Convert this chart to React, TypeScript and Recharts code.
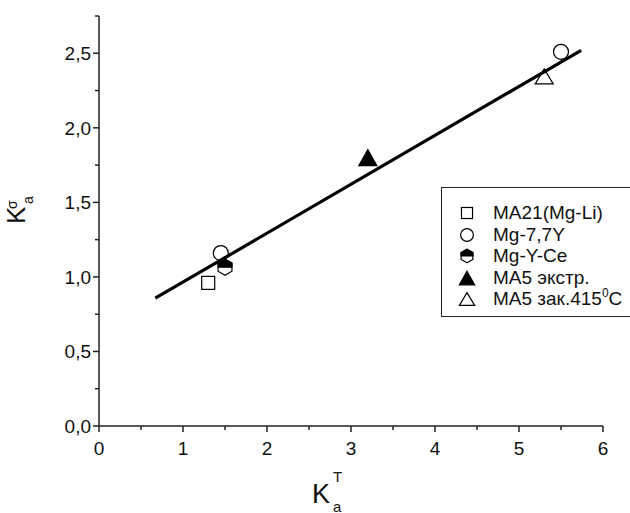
import React from 'react';
import { ScatterChart, Scatter, XAxis, YAxis, Legend, Label } from 'recharts';

// Axis ticks (majors carry labels, the rest are minor ticks)
const xTicks = [0, 0.5, 1, 1.5, 2, 2.5, 3, 3.5, 4, 4.5, 5, 5.5, 6];
const xMajor = [0, 1, 2, 3, 4, 5, 6];
const yTicks = [0, 0.25, 0.5, 0.75, 1, 1.25, 1.5, 1.75, 2, 2.25, 2.5, 2.75];
const yMajor = [0, 0.5, 1, 1.5, 2, 2.5];

// Measured points for each alloy
const ma21 = [{ x: 1.3, y: 0.96 }];
const mg77y = [
  { x: 1.45, y: 1.16 },
  { x: 5.5, y: 2.51 },
];
const mgYCe = [{ x: 1.5, y: 1.065 }];
const ma5Extruded = [{ x: 3.2, y: 1.8 }];
const ma5Quenched = [{ x: 5.3, y: 2.345 }];

// Linear fit drawn across the data
const fitLine = [
  { x: 0.67, y: 0.857 },
  { x: 5.74, y: 2.52 },
];

const legendNames = ['MA21(Mg-Li)', 'Mg-7,7Y', 'Mg-Y-Ce', 'MA5 экстр.', 'MA5 зак.415'];

const FONT = '"Liberation Sans", Arial, Helvetica, sans-serif';
const INK = '#000';

type Kind = 'square' | 'circle' | 'hexagon' | 'triFilled' | 'triOpen';

function Marker({ kind, cx, cy, k = 1 }: { kind: Kind; cx: number; cy: number; k?: number }) {
  const sw = 1.2;
  if (kind === 'square') {
    const h = 6.5 * k;
    return <rect x={cx - h} y={cy - h} width={2 * h} height={2 * h} fill="#fff" stroke={INK} strokeWidth={sw} />;
  }
  if (kind === 'circle') {
    return <circle cx={cx} cy={cy} r={7.5 * k} fill="#fff" stroke={INK} strokeWidth={sw} />;
  }
  if (kind === 'hexagon') {
    const r = 8 * k;
    const w = r * Math.cos(Math.PI / 6);
    const full = [
      [cx, cy - r],
      [cx + w, cy - r / 2],
      [cx + w, cy + r / 2],
      [cx, cy + r],
      [cx - w, cy + r / 2],
      [cx - w, cy - r / 2],
    ];
    const top = [
      [cx - w, cy],
      [cx - w, cy - r / 2],
      [cx, cy - r],
      [cx + w, cy - r / 2],
      [cx + w, cy],
    ];
    return (
      <g>
        <polygon points={full.map((p) => p.join(',')).join(' ')} fill="#fff" stroke={INK} strokeWidth={sw} />
        <polygon points={top.map((p) => p.join(',')).join(' ')} fill={INK} stroke={INK} strokeWidth={sw} />
      </g>
    );
  }
  const hw = 9 * k;
  const hh = (kind === 'triFilled' ? 8 : 7.5) * k;
  const pts = `${cx},${cy - hh} ${cx + hw},${cy + hh} ${cx - hw},${cy + hh}`;
  return (
    <polygon
      points={pts}
      fill={kind === 'triFilled' ? INK : '#fff'}
      stroke={INK}
      strokeWidth={sw}
      strokeLinejoin="miter"
    />
  );
}

const legendKinds: Kind[] = ['square', 'circle', 'hexagon', 'triFilled', 'triOpen'];

const shapeOf = (kind: Kind) => (props: any) => <Marker kind={kind} cx={props.cx} cy={props.cy} />;

const XTick = (props: any) => {
  const { x, y, payload } = props;
  const major = xMajor.includes(payload.value);
  return (
    <g>
      <line x1={x} y1={y} x2={x} y2={y + (major ? 6 : 4)} stroke="#222" strokeWidth={1.5} />
      {major && (
        <text x={x} y={y + 29} textAnchor="middle" fontFamily={FONT} fontSize={19} fill="#111">
          {payload.value}
        </text>
      )}
    </g>
  );
};

const YTick = (props: any) => {
  const { x, y, payload } = props;
  const major = yMajor.includes(payload.value);
  return (
    <g>
      <line x1={x} y1={y} x2={x - (major ? 6 : 4)} y2={y} stroke="#222" strokeWidth={1.5} />
      {major && (
        <text x={x - 8} y={y + 6.8} textAnchor="end" fontFamily={FONT} fontSize={19} fill="#111">
          {payload.value.toFixed(1).replace('.', ',')}
        </text>
      )}
    </g>
  );
};

const YTitle = (props: any) => {
  const vb = props.viewBox || { x: 0, y: 0, width: 0, height: 0 };
  const bx = vb.x + 25;
  const by = vb.y + vb.height / 2 + 3;
  return (
    <g transform={`translate(${bx},${by}) rotate(-90)`} fontFamily={FONT} fill="#111">
      <text x={0} y={0} fontSize={26}>K</text>
      <text x={15} y={-8} fontSize={14}>σ</text>
      <text x={20} y={8} fontSize={14}>a</text>
    </g>
  );
};

const XTitle = (props: any) => {
  const vb = props.viewBox || { x: 0, y: 0, width: 0, height: 0 };
  const bx = vb.x + 213;
  const by = vb.y + 77;
  return (
    <g fontFamily={FONT} fill="#111">
      <text x={bx} y={by} fontSize={27}>K</text>
      <text x={bx + 21} y={by - 21} fontSize={15}>T</text>
      <text x={bx + 21} y={by + 8.5} fontSize={15}>a</text>
    </g>
  );
};

const LegendBox = () => (
  <div
    style={{
      width: 192,
      height: 130,
      border: '1px solid #222',
      background: '#fff',
      boxSizing: 'border-box',
      position: 'relative',
      fontFamily: FONT,
      fontSize: 19,
      color: '#111',
    }}
  >
    {legendNames.map((name, i) => {
      const cy = 25 + i * 21.6;
      return (
        <div key={name} style={{ position: 'absolute', left: 0, top: cy - 11, height: 22, width: 190 }}>
          <svg width={22} height={22} style={{ position: 'absolute', left: 14, top: 0, overflow: 'visible' }}>
            <Marker kind={legendKinds[i]} cx={11} cy={11} k={0.85} />
          </svg>
          <span style={{ position: 'absolute', left: 51, top: 0, lineHeight: '22px', whiteSpace: 'nowrap' }}>
            {name}
            {i === 4 && (
              <>
                <span style={{ fontSize: 12, position: 'relative', top: -8 }}>0</span>C
              </>
            )}
          </span>
        </div>
      );
    })}
  </div>
);

export default function App() {
  return (
    <div style={{ position: 'absolute', left: 0, top: 0, width: 630, height: 513, overflow: 'hidden', background: '#fff' }}>
      <ScatterChart width={630} height={513} margin={{ top: 16, right: 27, bottom: 0, left: 0 }}>
        <XAxis
          type="number"
          dataKey="x"
          domain={[0, 6]}
          ticks={xTicks}
          interval={0}
          tickLine={false}
          tickSize={0}
          tickMargin={0}
          tick={<XTick />}
          axisLine={{ stroke: '#222', strokeWidth: 1.5 }}
          height={87}
        >
          <Label content={<XTitle />} />
        </XAxis>
        <YAxis
          type="number"
          dataKey="y"
          domain={[0, 2.75]}
          ticks={yTicks}
          interval={0}
          tickLine={false}
          tickSize={0}
          tickMargin={0}
          tick={<YTick />}
          axisLine={{ stroke: '#222', strokeWidth: 1.5 }}
          width={99}
        >
          <Label content={<YTitle />} />
        </YAxis>
        <Legend
          layout="vertical"
          align="center"
          verticalAlign="middle"
          wrapperStyle={{ left: 441, top: 187, width: 192, height: 130 }}
          content={<LegendBox />}
        />
        <Scatter name={legendNames[0]} data={ma21} shape={shapeOf('square')} isAnimationActive={false} />
        <Scatter name={legendNames[1]} data={mg77y} shape={shapeOf('circle')} isAnimationActive={false} />
        <Scatter name={legendNames[2]} data={mgYCe} shape={shapeOf('hexagon')} isAnimationActive={false} />
        <Scatter name={legendNames[3]} data={ma5Extruded} shape={shapeOf('triFilled')} isAnimationActive={false} />
        <Scatter name={legendNames[4]} data={ma5Quenched} shape={shapeOf('triOpen')} isAnimationActive={false} />
        <Scatter
          name="fit"
          data={fitLine}
          line={{ stroke: INK, strokeWidth: 3.2 }}
          lineType="joint"
          shape={() => <g />}
          legendType="none"
          isAnimationActive={false}
        />
      </ScatterChart>
    </div>
  );
}
